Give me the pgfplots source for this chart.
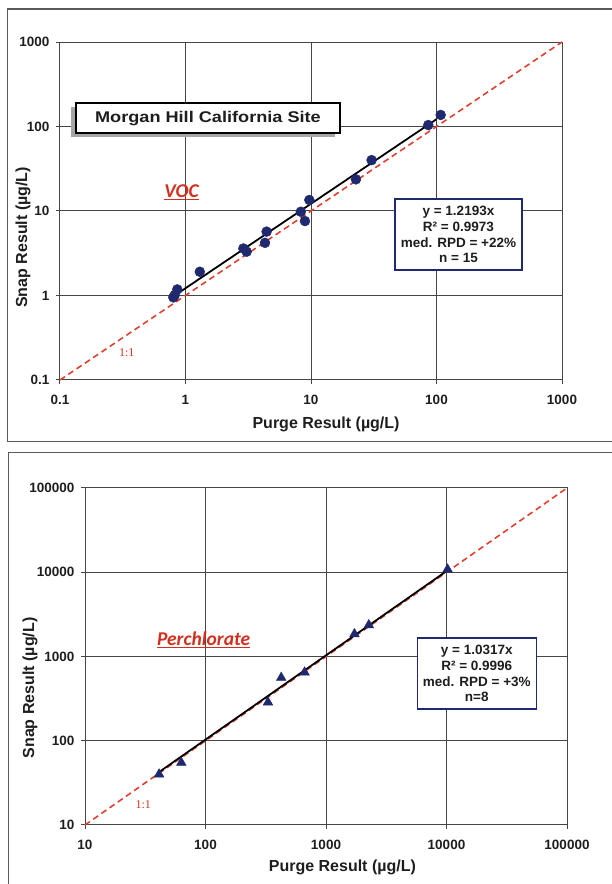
\documentclass[border=0pt]{standalone}
\usepackage{fontspec}
\setmainfont{Liberation Sans}
\newfontfamily\calib{Carlito}
\newfontfamily\serifr{Liberation Serif}
\usepackage{pgfplots}
\pgfplotsset{compat=1.18}
\definecolor{navy}{HTML}{1F2A6E}
\definecolor{dred}{HTML}{E0402F}
\definecolor{lred}{HTML}{D2301F}
\definecolor{gridc}{HTML}{454545}
\definecolor{framec}{HTML}{5A5A5A}
\definecolor{txt}{HTML}{1E1E1E}

\pgfplotsset{
  panel/.style={
    scale only axis, clip=false,
    grid=major,
    major grid style={gridc, line width=1pt},
    axis line style={gridc, line width=1pt},
    tick style={gridc, line width=1pt},
    tick align=outside, tick pos=left,
    major tick length=4pt, minor tick length=0pt,
    ticklabel style={font=\bfseries\fontsize{13.5}{14}\selectfont, text=txt},
    xticklabel style={yshift=-8pt},
    yticklabel style={xshift=-3pt},
    label style={font=\bfseries\fontsize{16}{17}\selectfont, text=txt},
  },
}
\tikzset{
  stat/.style={draw=navy, line width=1.5pt, fill=white, align=center,
    minimum height=71pt, inner sep=0pt, text=txt,
    font=\bfseries\fontsize{13.5}{15.8}\selectfont},
  lab/.style={text=lred, font=\calib\bfseries\itshape\fontsize{19.5}{20}\selectfont},
  oneone/.style={text=lred, font=\serifr\fontsize{12}{12}\selectfont},
}

\begin{document}
\begin{tikzpicture}
\path[use as bounding box] (0pt,0pt) rectangle (612pt,884pt);
\begin{scope}
\clip (0pt,0pt) rectangle (612pt,884pt);
\draw[framec, line width=1.8pt] (7.5pt,875pt) rectangle (640pt,442.5pt);
\draw[framec, line width=1.8pt] (8.5pt,431.5pt) rectangle (640pt,-20pt);
\end{scope}

% ---------------- Top panel: VOC ----------------
\begin{axis}[xmode=log, ymode=log, panel,
  at={(60pt,504pt)}, anchor=south west, width=502pt, height=338pt,
  xmin=0.1, xmax=1000, ymin=0.1, ymax=1000,
  xtick={0.1,1,10,100,1000}, xticklabels={0.1,1,10,100,1000},
  ytick={0.1,1,10,100,1000}, yticklabels={0.1,1,10,100,1000},
  xlabel={Purge Result (µg/L)}, ylabel={Snap Result (µg/L)},
  xlabel style={at={(axis description cs:0.53,-0.130)}, anchor=center},
  ylabel style={at={(axis description cs:-0.0737,0.4216)}, anchor=center},
]
\addplot[dred, line width=1.6pt, dash pattern=on 6pt off 4pt] coordinates {(0.1,0.1) (1000,1000)};
\addplot[black, line width=1.8pt] coordinates {(0.8,0.975) (100,121.9)};
\addplot[only marks, mark=*, mark size=5pt, mark options={fill=navy, draw=navy}] coordinates {
(0.80,0.95) (0.82,1.01) (0.86,1.18) (1.30,1.91) (2.89,3.6) (3.07,3.3)
(4.3,4.2) (4.43,5.7) (8.3,9.8) (8.95,7.6) (9.7,13.5) (22.8,23.7)
(30.4,40) (86,104) (108,137)
};
\node[fill=gray!70, minimum width=264pt, minimum height=30pt, inner sep=0pt, xshift=-4.5pt, yshift=-4pt] at (axis cs:1.51,125) {};
\node[draw=black, line width=2pt, fill=white, minimum width=264pt, minimum height=30pt, inner sep=0pt, text=txt,
  font=\bfseries\fontsize{15.5}{16}\selectfont] at (axis cs:1.51,125) {\scalebox{1.17}[1]{Morgan Hill California Site}};
\node[lab] at (axis cs:0.93,16.5) {\underline{VOC}};
\node[oneone] at (axis cs:0.34,0.21) {1:1};
\node[stat, minimum width=127pt] at (axis cs:149.6,5.27) {y = 1.2193x\\R² = 0.9973\\med. RPD = +22\%\\n = 15};
\end{axis}

% ---------------- Bottom panel: Perchlorate ----------------
\begin{axis}[xmode=log, ymode=log, panel,
  at={(85pt,59pt)}, anchor=south west, width=482pt, height=337pt,
  xmin=10, xmax=100000, ymin=10, ymax=100000,
  xtick={10,100,1000,10000,100000}, xticklabels={10,100,1000,10000,100000},
  ytick={10,100,1000,10000,100000}, yticklabels={10,100,1000,10000,100000},
  xlabel={Purge Result (µg/L)}, ylabel={Snap Result (µg/L)},
  xlabel style={at={(axis description cs:0.534,-0.125)}, anchor=center},
  ylabel style={at={(axis description cs:-0.114,0.4065)}, anchor=center},
]
\addplot[dred, line width=1.6pt, dash pattern=on 6pt off 4pt] coordinates {(10,10) (100000,100000)};
\addplot[black, line width=1.8pt] coordinates {(40,41.27) (10000,10317)};
\addplot[only marks, mark=triangle*, mark size=5.6pt, mark options={fill=navy, draw=navy}] coordinates {
(41.2,40) (63,55) (330,286) (425,561) (664,649) (1722,1849) (2266,2365) (10200,10840)
};
\node[lab] at (axis cs:96.6,1570) {\underline{Perchlorate}};
\node[oneone] at (axis cs:30.4,17.3) {1:1};
\node[stat, minimum width=119pt] at (axis cs:17830,628) {y = 1.0317x\\R² = 0.9996\\med. RPD = +3\%\\n=8};
\end{axis}
\end{tikzpicture}
\end{document}
